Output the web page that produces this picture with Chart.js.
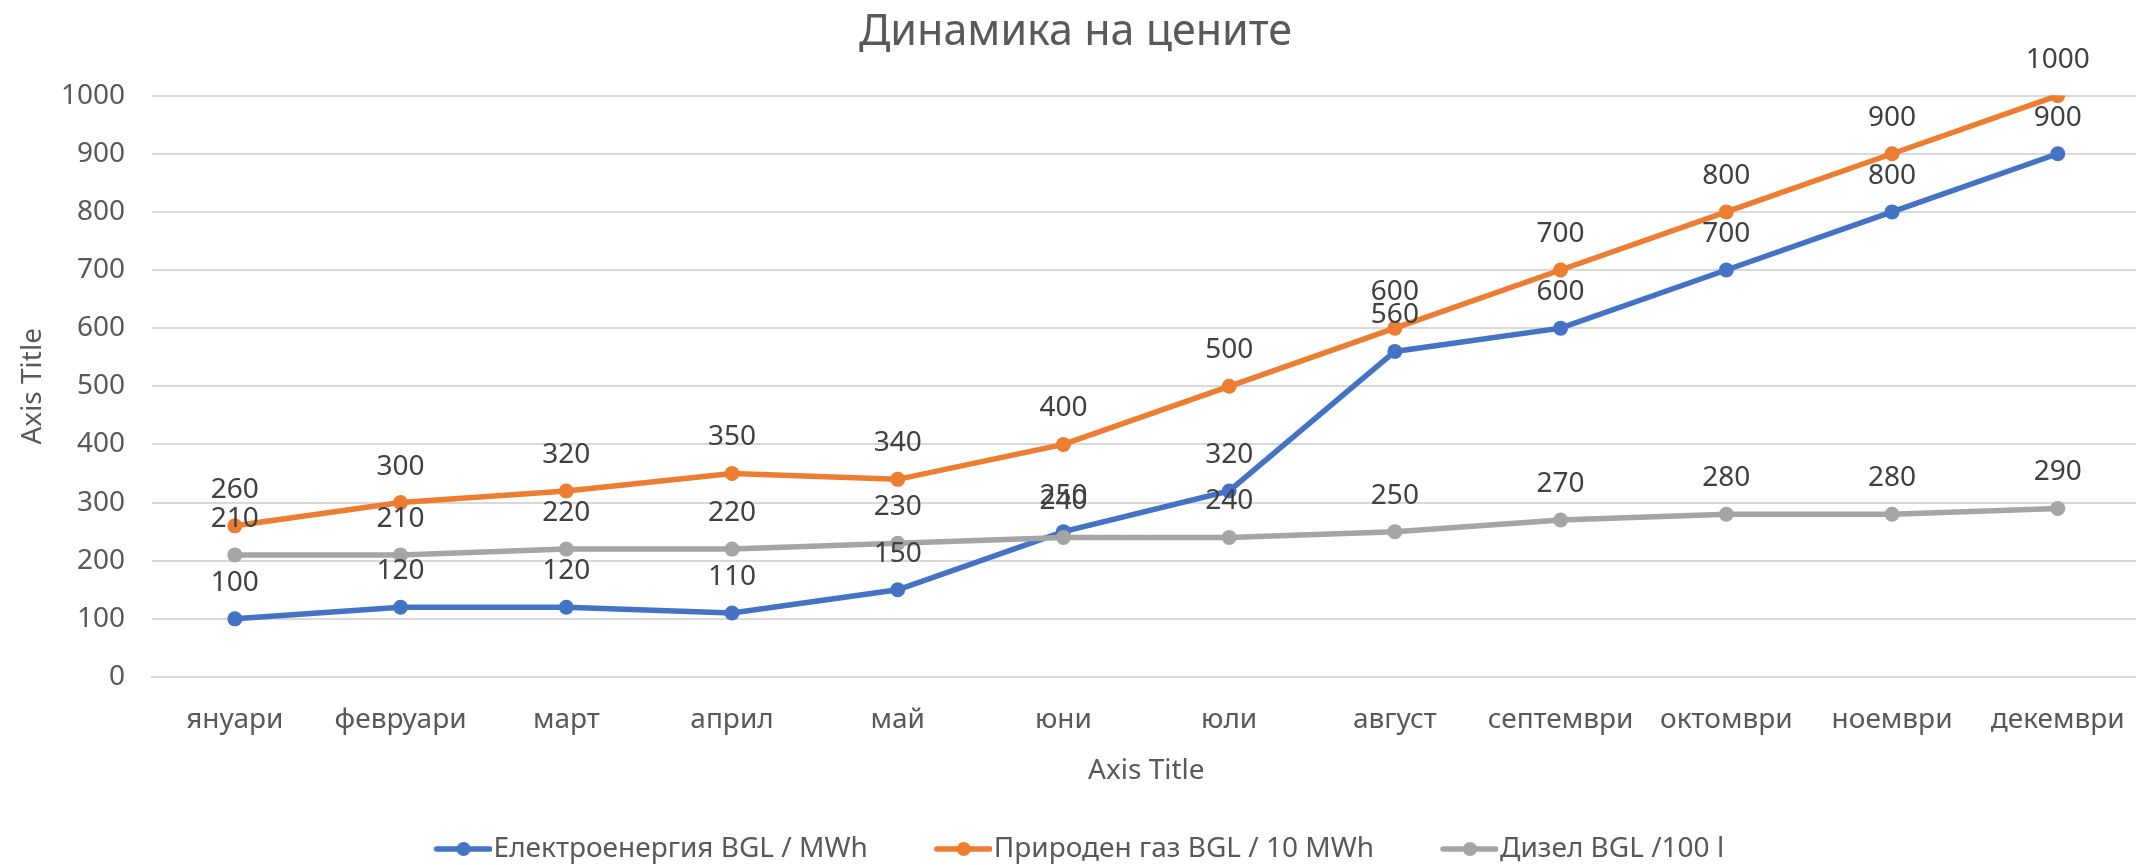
<!DOCTYPE html>
<html lang="bg">
<head>
    <meta charset="UTF-8">
    <title>Динамика на цените</title>
    <script src="https://cdn.jsdelivr.net/npm/chart.js"></script>
    <style>
        body { margin: 0; background: #fff; overflow: hidden; }
        .kutia { width: 2136px; height: 865px; overflow: hidden; }
    </style>
</head>
<body>
    <div class="kutia">
        <canvas id="grafik" width="2151" height="865"></canvas>
    </div>

<script>
    // данни
    const meseci = ["януари", "февруари", "март", "април", "май", "юни", "юли", "август", "септември", "октомври", "ноември", "декември"];
    const elektroenergia = [100, 120, 120, 110, 150, 250, 320, 560, 600, 700, 800, 900];
    const prirodenGaz = [260, 300, 320, 350, 340, 400, 500, 600, 700, 800, 900, 1000];
    const dizel = [210, 210, 220, 220, 230, 240, 240, 250, 270, 280, 280, 290];
    const imenaSerii = ["Електроенергия BGL / MWh", "Природен газ BGL / 10 MWh", "Дизел BGL /100 l"];
    const yTikove = [0, 100, 200, 300, 400, 500, 600, 700, 800, 900, 1000];

    const SHRIFT = "'Noto Sans', sans-serif";
    const SIVO = '#595959';

    // маркер за легендата - линия с точка
    function marker(cvqt) {
        let c = document.createElement('canvas');
        c.width = 126;
        c.height = 18;
        let ctx = c.getContext('2d');
        ctx.strokeStyle = cvqt;
        ctx.lineWidth = 5.5;
        ctx.lineCap = 'round';
        ctx.beginPath();
        ctx.moveTo(126 - 55, 9);
        ctx.lineTo(124, 9);
        ctx.stroke();
        ctx.fillStyle = cvqt;
        ctx.beginPath();
        ctx.arc(126 - 28, 9, 7, 0, Math.PI * 2);
        ctx.fill();
        return c;
    }

    function seria(ime, danni, cvqt, red) {
        return {
            label: ime,
            data: danni,
            borderColor: cvqt,
            backgroundColor: cvqt,
            borderWidth: 5.5,
            pointRadius: 7.5,
            pointHoverRadius: 7.5,
            pointBorderWidth: 0,
            pointBackgroundColor: cvqt,
            tension: 0,
            order: red
        };
    }

    // етикети над точките
    const etiketi = {
        id: 'etiketi',
        afterDatasetsDraw(chart) {
            const ctx = chart.ctx;
            ctx.save();
            ctx.font = "28px " + SHRIFT;
            ctx.fillStyle = '#404040';
            ctx.textAlign = 'center';
            ctx.textBaseline = 'middle';
            chart.data.datasets.forEach(function (ds, i) {
                chart.getDatasetMeta(i).data.forEach(function (pt, j) {
                    ctx.fillText(ds.data[j], pt.x, pt.y - 36);
                });
            });
            ctx.restore();
        }
    };

    const config = {
        type: 'line',
        data: {
            labels: meseci,
            datasets: [
                seria(imenaSerii[0], elektroenergia, '#4472C4', 2),
                seria(imenaSerii[1], prirodenGaz, '#ED7D31', 1),
                seria(imenaSerii[2], dizel, '#A5A5A5', 0)
            ]
        },
        options: {
            responsive: false,
            animation: false,
            layout: { padding: 0 },
            plugins: {
                title: {
                    display: true,
                    text: 'Динамика на цените',
                    color: SIVO,
                    font: { family: SHRIFT, size: 43, weight: 'normal' },
                    padding: { top: 7, bottom: 37 }
                },
                legend: {
                    position: 'bottom',
                    maxHeight: 40,
                    labels: {
                        usePointStyle: true,
                        pointStyleWidth: 102,
                        padding: 10,
                        color: SIVO,
                        font: { family: SHRIFT, size: 28 },
                        generateLabels(chart) {
                            return chart.data.datasets.map(function (ds, i) {
                                return {
                                    text: i === 2 ? ds.label + '\u2003\u2002 ' : ds.label,
                                    fillStyle: ds.borderColor,
                                    strokeStyle: ds.borderColor,
                                    lineWidth: 0,
                                    pointStyle: marker(ds.borderColor),
                                    fontColor: SIVO,
                                    hidden: false,
                                    datasetIndex: i
                                };
                            });
                        }
                    }
                },
                tooltip: { enabled: false }
            },
            scales: {
                x: {
                    offset: true,
                    grid: { display: false, drawTicks: false },
                    border: { color: '#D9D9D9', width: 2 },
                    ticks: {
                        color: SIVO,
                        font: { family: SHRIFT, size: 28 },
                        padding: 26,
                        maxRotation: 0,
                        autoSkip: false
                    },
                    title: {
                        display: true,
                        text: 'Axis Title',
                        color: SIVO,
                        font: { family: SHRIFT, size: 28 },
                        padding: { top: 0, bottom: 37 }
                    },
                    afterFit(scale) { scale.height = 148; }
                },
                y: {
                    min: 0,
                    max: 1000,
                    grid: { color: '#D9D9D9', lineWidth: 2, drawTicks: false },
                    border: { display: false },
                    afterBuildTicks(scale) {
                        scale.ticks = yTikove.map(v => ({ value: v }));
                    },
                    ticks: {
                        color: SIVO,
                        font: { family: SHRIFT, size: 28 },
                        padding: 27,
                        callback: function (v) { return String(v); }
                    },
                    title: {
                        display: true,
                        text: 'Axis Title',
                        color: SIVO,
                        font: { family: SHRIFT, size: 28 },
                        padding: { top: 16, bottom: 0 }
                    },
                    afterFit(scale) { scale.width = 152; }
                }
            }
        },
        plugins: [etiketi]
    };

    let myChart = new Chart(document.getElementById('grafik'), config);
</script>
</body>
</html>
